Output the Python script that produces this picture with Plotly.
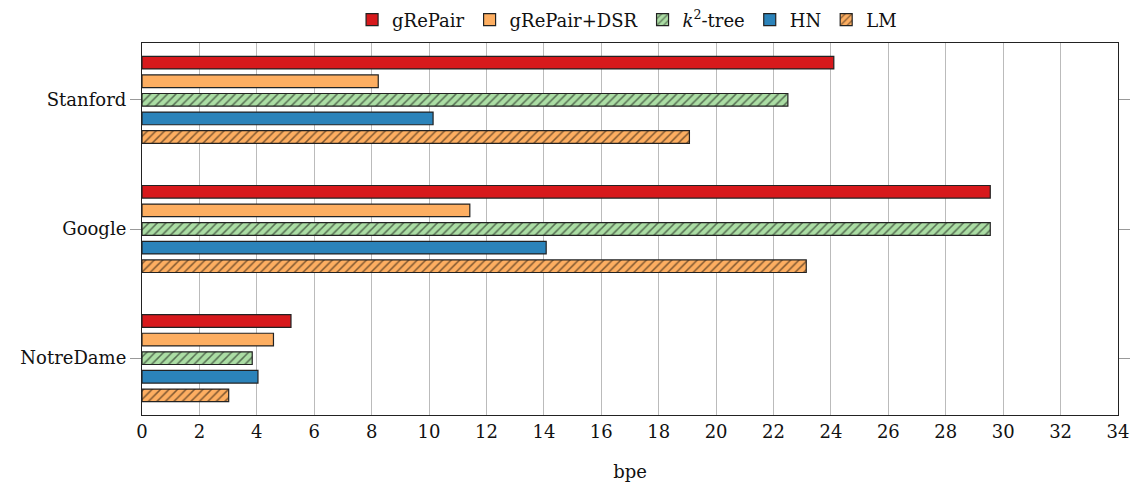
import plotly.graph_objects as go

categories = ["Stanford", "Google", "NotreDame"]
series_names = ["gRePair", "gRePair+DSR", "<i>k</i><sup>2</sup>-tree", "HN", "LM"]
grepair = [24.1, 29.55, 5.19]
grepair_dsr = [8.23, 11.42, 4.58]
k2tree = [22.5, 29.55, 3.84]
hn = [10.14, 14.08, 4.04]
lm = [19.07, 23.14, 3.02]
x_ticks = list(range(0, 35, 2))

values = [grepair, grepair_dsr, k2tree, hn, lm]
colors = ["#d7191c", "#fdae61", "#abdda4", "#2b83ba", "#fdae61"]
hatched = [False, False, True, False, True]

fig = go.Figure()
for name, vals, col, hat in zip(series_names, values, colors, hatched):
    marker = dict(color=col, line=dict(color="#222222", width=1.2))
    if hat:
        marker["pattern"] = dict(shape="/", fgcolor="black", bgcolor=col,
                                 size=6, solidity=0.25, fillmode="overlay")
    fig.add_trace(go.Bar(name=name, y=categories, x=vals, orientation="h",
                         marker=marker))

font = "DejaVu Serif"
fs = 18
fig.update_layout(
    width=1142, height=486,
    margin=dict(l=134, r=32, t=35, b=79, autoexpand=False),
    barmode="group", bargap=0.28, bargroupgap=0.32,
    plot_bgcolor="white", paper_bgcolor="white",
    font=dict(family=font, size=fs, color="#111111"),
    legend=dict(orientation="h", x=0.497, xanchor="center",
                yref="paper", y=1.112, yanchor="top",
                font=dict(family=font, size=fs), traceorder="normal",
                itemwidth=30, bgcolor="rgba(0,0,0,0)"),
    xaxis=dict(range=[0, 34], tickvals=x_ticks, showgrid=True, gridcolor="#bbbbbb",
               gridwidth=1, showline=True, linecolor="#222222", linewidth=1.2,
               mirror=True, ticks="", zeroline=False, automargin=False,
               tickfont=dict(family=font, size=fs),
               title=dict(text="bpe", standoff=24, font=dict(family=font, size=fs))),
    yaxis=dict(categoryorder="array", categoryarray=categories,
               range=[2.44, -0.44], showgrid=False, showline=True,
               linecolor="#222222", linewidth=1.2, mirror="allticks",
               ticks="outside", ticklen=11, tickcolor="#999999", automargin=False,
               tickfont=dict(family=font, size=fs)),
)
fig.write_html("out.html")
